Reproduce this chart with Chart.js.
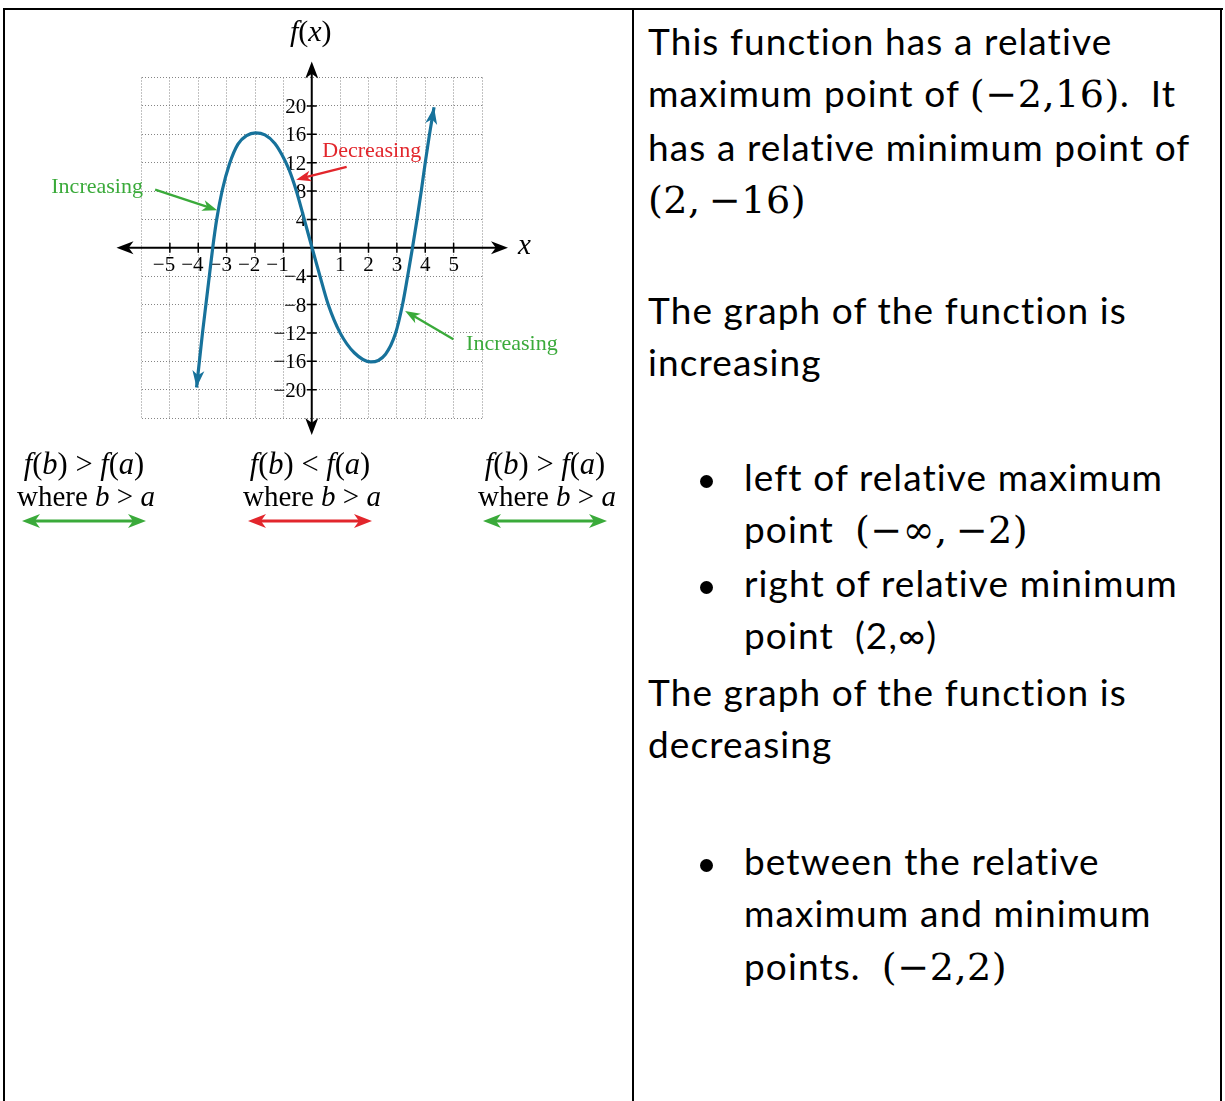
<!DOCTYPE html>
<html>
<head>
<meta charset="utf-8">
<script src="https://cdn.jsdelivr.net/npm/chart.js@4.4.0/dist/chart.umd.min.js"></script>
<style>
  html, body { margin: 0; padding: 0; background: #fff; }
  body { width: 1225px; height: 1101px; position: relative; overflow: hidden; }
  .rule { position: absolute; background: #000; }
  #graph { position: absolute; left: 0; top: 0; }
  .txt { position: absolute; left: 648px; font-family: Lato, "Open Sans", sans-serif; font-size: 37px;
         letter-spacing: 1.1px; line-height: 52.5px; color: #000; white-space: nowrap; }
  .m { font-family: "DejaVu Serif", serif; font-size: 1.03em; letter-spacing: 0.5px; }
  .item { position: relative; padding-left: 96px; }
  .item::before { content: ''; position: absolute; left: 52px; top: 24.5px; width: 13px; height: 13px;
                  border-radius: 50%; background: #000; }
</style>
</head>
<body>
<!-- table lines -->
<div class="rule" style="left:3px; top:8px; width:1220px; height:2px;"></div>
<div class="rule" style="left:3px; top:8px; width:2px; height:1100px;"></div>
<div class="rule" style="left:632px; top:8px; width:2px; height:1100px;"></div>
<div class="rule" style="left:1220px; top:8px; width:2px; height:1100px;"></div>

<canvas id="graph" width="632" height="560"></canvas>

<div class="txt" style="top:14.5px">This function has a relative<br>maximum point of <span class="m">(−2,16)</span>.&nbsp; It<br>has a relative minimum point of<br><span class="m">(2,&#8201;−16)</span></div>
<div class="txt" style="top:283.5px">The graph of the function is<br>increasing</div>
<div class="txt" style="top:450.5px">
  <div class="item">left of relative maximum<br>point&nbsp; <span class="m">(−∞,&#8201;−2)</span></div>
  <div class="item">right of relative minimum<br>point&nbsp; (2,∞)</div>
</div>
<div class="txt" style="top:665.5px">The graph of the function is<br>decreasing</div>
<div class="txt" style="top:834.5px">
  <div class="item">between the relative<br>maximum and minimum<br>points.&nbsp; <span class="m">(−2,2)</span></div>
</div>

<script>
// curve: relative max near (-2, 16), relative min near (2, -16)
const curveX = [-4.06, -3.96, -3.85, -3.73, -3.61, -3.49, -3.35, -3.16, -2.9, -2.6, -2.3, -1.98, -1.65, -1.3,
                -1.05, -0.8, -0.55, -0.27, 0.01, 0.29, 0.58, 1.0, 1.5, 2.08, 2.6, 2.95, 3.2, 3.38, 3.55,
                3.71, 3.86, 4.0, 4.15, 4.31];
const curveY = [-19.7, -16, -12, -8, -4, 0, 4, 8, 11.8, 14.6, 15.8, 16.2, 15.9, 14.7,
                13.1, 11.0, 8.1, 4.1, 0, -4, -8, -12, -14.8, -16.1, -15, -12.1, -8, -4, 0,
                4, 8, 12, 16, 19.8];

const xTickLabels = [-5, -4, -3, -2, -1, 1, 2, 3, 4, 5];
const yTickLabels = [20, 16, 12, 8, 4, -4, -8, -12, -16, -20];

// arrows pointing at the curve, in graph units
const noteText  = ['Increasing', 'Decreasing', 'Increasing'];
const noteColor = ['#3aaa3a', '#e2262c', '#3aaa3a'];
const noteFrom  = [[-5.52, 8.2], [1.23, 11.4], [4.99, -12.9]];
const noteTo    = [[-3.33, 5.3], [-0.55, 9.6], [3.29, -8.9]];
const noteAt    = [[-5.95, 8.6], [0.37, 13.6], [5.44, -13.6]];
const noteAlign = ['right', 'left', 'left'];

const CURVE = '#17729b';
const SERIF = '"Liberation Serif", "Times New Roman", serif';

const minus = s => String(s).replace('-', '\u2212');

function arrowHead(ctx, x, y, ang, len, wid, color) {
  ctx.save();
  ctx.translate(x, y);
  ctx.rotate(ang);
  ctx.beginPath();
  ctx.moveTo(0, 0);
  ctx.lineTo(-len, wid / 2);
  ctx.lineTo(-len * 0.72, 0);
  ctx.lineTo(-len, -wid / 2);
  ctx.closePath();
  ctx.fillStyle = color;
  ctx.fill();
  ctx.restore();
}

// draws a row of upright/italic pieces centred on cx
function richText(ctx, parts, cx, y, size) {
  const fontOf = p => (p[1] ? 'italic ' : '') + size + 'px ' + SERIF;
  let total = 0;
  parts.forEach(p => { ctx.font = fontOf(p); total += ctx.measureText(p[0]).width; });
  let x = cx - total / 2;
  ctx.textAlign = 'left';
  parts.forEach(p => {
    ctx.font = fontOf(p);
    ctx.fillText(p[0], x, y);
    x += ctx.measureText(p[0]).width;
  });
}

const axesPlugin = {
  id: 'axesPlugin',
  beforeDatasetsDraw(chart) {
    const { ctx, scales: { x, y } } = chart;
    const x0 = x.getPixelForValue(0), y0 = y.getPixelForValue(0);
    ctx.save();
    ctx.strokeStyle = '#000';
    ctx.lineWidth = 2;
    ctx.beginPath();
    ctx.moveTo(x.left - 20, y0); ctx.lineTo(x.right + 20, y0);
    ctx.moveTo(x0, y.top - 10); ctx.lineTo(x0, y.bottom + 12);
    ctx.stroke();
    arrowHead(ctx, x.left - 25, y0, Math.PI, 17, 13, '#000');
    arrowHead(ctx, x.right + 26, y0, 0, 17, 13, '#000');
    arrowHead(ctx, x0, y.top - 16, -Math.PI / 2, 17, 13, '#000');
    arrowHead(ctx, x0, y.bottom + 17, Math.PI / 2, 17, 13, '#000');

    // tick marks crossing the axes
    ctx.lineWidth = 1.5;
    ctx.beginPath();
    xTickLabels.forEach(v => { const p = x.getPixelForValue(v); ctx.moveTo(p, y0 - 5); ctx.lineTo(p, y0 + 5); });
    yTickLabels.forEach(v => { const p = y.getPixelForValue(v); ctx.moveTo(x0 - 5, p); ctx.lineTo(x0 + 5, p); });
    ctx.stroke();

    ctx.fillStyle = '#000';
    ctx.font = '21px ' + SERIF;
    ctx.textBaseline = 'alphabetic';
    xTickLabels.forEach(v => {
      const p = x.getPixelForValue(v);
      const full = minus(v), digits = String(Math.abs(v));
      const wf = ctx.measureText(full).width, wd = ctx.measureText(digits).width;
      ctx.textAlign = 'left';
      ctx.fillText(full, p + wd / 2 - wf, y0 + 23);
    });
    ctx.textAlign = 'right';
    yTickLabels.forEach(v => {
      ctx.fillText(minus(v), x0 - 5.5, y.getPixelForValue(v) + 7);
    });

    richText(ctx, [['f', true], ['(', false], ['x', true], [')', false]], x0 - 1, 41, 30);
    ctx.font = 'italic 29px ' + SERIF;
    ctx.textAlign = 'left';
    ctx.fillText('x', x.right + 36, y0 + 6);
    ctx.restore();
  },
  afterDatasetsDraw(chart) {
    const { ctx, scales: { x, y } } = chart;
    const pts = chart.getDatasetMeta(0).data;
    ctx.save();
    // arrowheads on both ends of the curve
    const first = pts[0], last = pts[pts.length - 1];
    const a0 = Math.atan2(first.y - first.cp2y, first.x - first.cp2x);
    const a1 = Math.atan2(last.y - last.cp1y, last.x - last.cp1x);
    arrowHead(ctx, first.x, first.y, a0, 17, 12, CURVE);
    arrowHead(ctx, last.x, last.y, a1, 17, 12, CURVE);

    // labelled arrows
    noteText.forEach((t, i) => {
      const fx = x.getPixelForValue(noteFrom[i][0]), fy = y.getPixelForValue(noteFrom[i][1]);
      const tx = x.getPixelForValue(noteTo[i][0]), ty = y.getPixelForValue(noteTo[i][1]);
      const ang = Math.atan2(ty - fy, tx - fx);
      ctx.strokeStyle = noteColor[i];
      ctx.lineWidth = 2.3;
      ctx.beginPath();
      ctx.moveTo(fx, fy);
      ctx.lineTo(tx - Math.cos(ang) * 8, ty - Math.sin(ang) * 8);
      ctx.stroke();
      arrowHead(ctx, tx, ty, ang, 15, 11, noteColor[i]);
      ctx.fillStyle = noteColor[i];
      ctx.font = '22px ' + SERIF;
      ctx.textAlign = noteAlign[i];
      ctx.textBaseline = 'middle';
      ctx.fillText(t, x.getPixelForValue(noteAt[i][0]), y.getPixelForValue(noteAt[i][1]));
    });

    // interval summaries under the graph
    ctx.textBaseline = 'alphabetic';
    ctx.fillStyle = '#000';
    const groups = [
      { cx: 84, rel: '>', color: '#3aaa3a' },
      { cx: 310, rel: '<', color: '#e2262c' },
      { cx: 545, rel: '>', color: '#3aaa3a' }
    ];
    const gap = '\u2005';
    groups.forEach(g => {
      richText(ctx, [['f', true], ['(', false], ['b', true], [')', false], [gap + g.rel + gap, false],
                     ['f', true], ['(', false], ['a', true], [')', false]], g.cx, 474, 30.5);
      richText(ctx, [['where ', false], ['b', true], [' > ', false], ['a', true]], g.cx + 2, 506, 29);
      const l = g.cx - 62, r = g.cx + 62, yy = 521;
      ctx.strokeStyle = g.color;
      ctx.lineWidth = 3;
      ctx.beginPath();
      ctx.moveTo(l + 8, yy); ctx.lineTo(r - 8, yy);
      ctx.stroke();
      arrowHead(ctx, l, yy, Math.PI, 18, 14, g.color);
      arrowHead(ctx, r, yy, 0, 18, 14, g.color);
    });
    ctx.restore();
  }
};

new Chart(document.getElementById('graph'), {
  type: 'scatter',
  data: {
    datasets: [{
      data: curveX.map((v, i) => ({ x: v, y: curveY[i] })),
      showLine: true,
      borderColor: CURVE,
      borderWidth: 3.2,
      pointRadius: 0,
      cubicInterpolationMode: 'monotone'
    }]
  },
  options: {
    responsive: false,
    animation: false,
    events: [],
    layout: { autoPadding: false, padding: { left: 141.5, right: 150, top: 77.5, bottom: 142 } },
    plugins: { legend: { display: false }, tooltip: { enabled: false } },
    scales: {
      x: {
        type: 'linear', min: -6, max: 6,
        ticks: { stepSize: 1, display: false },
        grid: { color: '#858585', lineWidth: 1, drawTicks: false },
        border: { display: false, dash: [1, 2] }
      },
      y: {
        type: 'linear', min: -24, max: 24,
        ticks: { stepSize: 4, display: false },
        grid: { color: '#858585', lineWidth: 1, drawTicks: false },
        border: { display: false, dash: [1, 2] }
      }
    }
  },
  plugins: [axesPlugin]
});
</script>
</body>
</html>
